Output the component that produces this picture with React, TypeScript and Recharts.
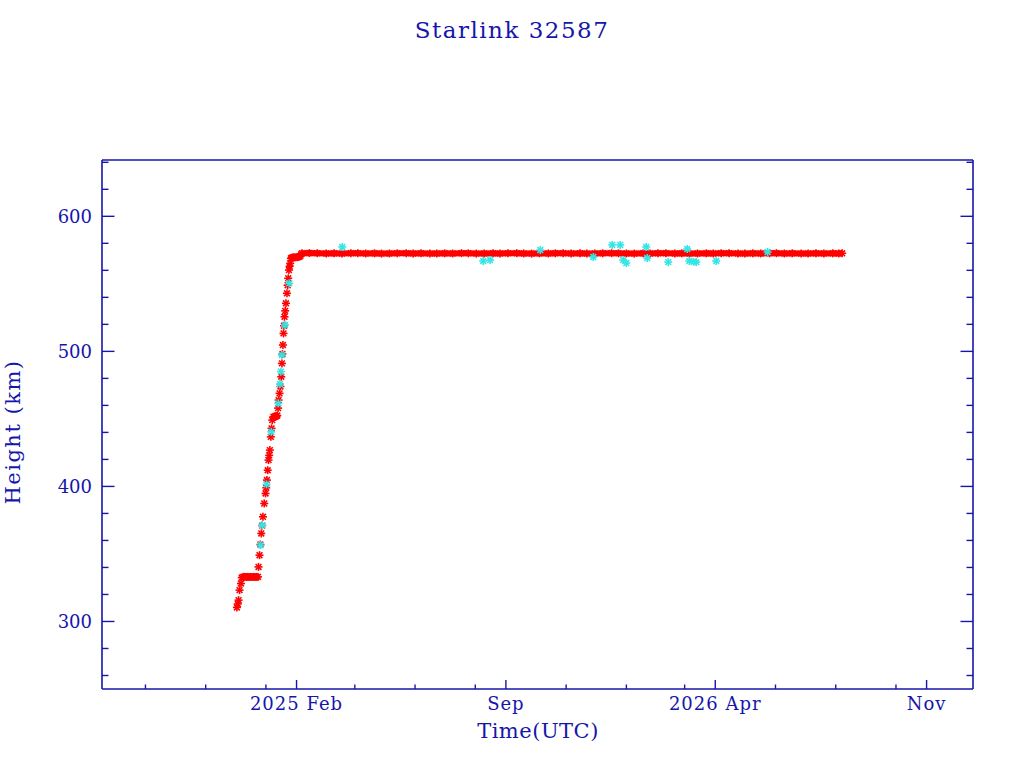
import { Scatter, ScatterChart, XAxis, YAxis } from "recharts";

// x = days since 2025-01-01 (UTC), y = height in km
const ascentDays = [
  -29.4, -28.5, -27.7, -26.7, -25.3, -24.5, -23, -21.5, -20, -18.5, -17, -15.5, -14, -12.5, -11, -9.5, -8,
  -7.5, -6.5, -5.6, -4.7, -3.8, -3, -1.7, -0.4, 0.3, 1, 1.8, 2.6, 3.3, 4, 5, 5.7, 6.4, 7.5, 8.5, 9.5, 10.5,
  11.5, 12.3, 12.8, 13.8, 14.7, 15.5, 16.2, 16.7, 17.2, 17.8, 18.3, 18.8, 19.5, 20.3, 21.3, 22, 22.6, 23.3,
  24, 24.6, 25.3, 26.3, 27.5, 29, 30.5, 32, 33.5, 34.7, 35.6,
];
const ascentKm = [
  310.4, 313, 315.8, 323.2, 328.1, 332.5, 333, 333, 333, 333, 333, 333, 333, 333, 333, 333, 333,
  340.4, 349.1, 357, 365.2, 371, 377.5, 387.4, 394.8, 399, 404.7, 412, 419.5, 423, 426.9, 436.7, 443, 449.1,
  451.5, 451.6, 451.8, 452, 452.5, 458, 463.9, 468.9, 474, 481.2, 491.1, 498, 504.7, 513.3, 519, 525.6, 530,
  535.6, 543, 549, 554.1, 560.2, 563, 565.2, 568.9, 569.4, 569.6, 569.6, 569.7, 569.8, 570, 570.5, 571.8,
];

const stationDays = [
  36.5, 44, 52, 61, 69, 77, 86, 93, 101, 110, 117, 125, 133, 142, 149, 157, 166, 173, 181, 189, 198, 205,
  213, 221, 230, 237, 245, 254, 261, 269, 277, 286, 293, 301, 309, 318, 325, 333, 341, 350, 357, 365, 373,
  382, 389, 397, 405, 414, 421, 429, 437, 446, 453, 461, 469, 478, 485, 493, 501, 510, 517, 525, 533, 542,
  549, 557, 565, 574, 580, 583.5,
];
const stationKm = [
  572.6, 572.8, 572.7, 572.5, 572.6, 572.4, 572.6, 572.7, 572.5, 572.6, 572.4, 572.5, 572.6, 572.7, 572.5,
  572.6, 572.4, 572.5, 572.6, 572.5, 572.7, 572.6, 572.4, 572.5, 572.6, 572.5, 572.6, 572.7, 572.5, 572.4,
  572.6, 572.5, 572.6, 572.7, 572.5, 572.6, 572.4, 572.5, 572.6, 572.7, 572.6, 572.5, 572.4, 572.6, 572.5,
  572.6, 572.7, 572.5, 572.6, 572.4, 572.5, 572.6, 572.5, 572.7, 572.6, 572.5, 572.4, 572.6, 572.5, 572.6,
  572.7, 572.5, 572.6, 572.4, 572.5, 572.6, 572.5, 572.6, 572.5, 572.6,
];

const cyanDays = [
  -5.5, -3.7, 0.6, 5.4, 12.5, 14.2, 15.2, 16.2, 19.3, 23.6, 77.3, 220, 227, 277.8, 331.5, 350.7, 358.8,
  361.8, 364.9, 385.1, 386.1, 407.4, 426.6, 428.7, 433, 435.8, 456, 508,
];
const cyanKm = [
  356.5, 371.3, 401.5, 440.4, 461.5, 475.8, 485, 497.3, 519.5, 550.4, 577.3, 566.9, 567.6, 575, 569.9, 578.8,
  578.8, 567.6, 565.4, 577.3, 569.1, 566.1, 575.8, 566.9, 566.4, 566.1, 566.9, 573.6,
];

const xMajorTicks = [31, 243, 455, 669];
const xMajorLabels = ["2025 Feb", "Sep", "2026 Apr", "Nov"];
const xMinorTicks = [-122, -61, 0, 90, 151, 212, 304, 365, 424, 516, 577, 638];
const yMajorTicks = [300, 400, 500, 600];
const yMinorTicks = [260, 280, 320, 340, 360, 380, 420, 440, 460, 480, 520, 540, 560, 580, 620, 640];

const ascent = ascentDays.map((d, i) => ({ d, h: ascentKm[i] }));
const station = stationDays.map((d, i) => ({ d, h: stationKm[i] }));
const cyan = cyanDays.map((d, i) => ({ d, h: cyanKm[i] }));

const INK = "#1616aa";
const FONT = "'DejaVu Serif', serif";
const xTicks = [...xMinorTicks, ...xMajorTicks].sort((a, b) => a - b);
const yTicks = [...yMinorTicks, ...yMajorTicks].sort((a, b) => a - b);

function Star(props: any) {
  const { cx, cy, color } = props;
  if (cx == null || cy == null) return null;
  const r = 4;
  const q = 2.9;
  return (
    <g stroke={color} strokeWidth={1.6}>
      <line x1={cx - r} y1={cy} x2={cx + r} y2={cy} />
      <line x1={cx} y1={cy - r} x2={cx} y2={cy + r} />
      <line x1={cx - q} y1={cy - q} x2={cx + q} y2={cy + q} />
      <line x1={cx - q} y1={cy + q} x2={cx + q} y2={cy - q} />
    </g>
  );
}

function BottomTick(props: any) {
  const { x, y, payload } = props;
  const idx = xMajorTicks.indexOf(payload.value);
  const major = idx >= 0;
  return (
    <g>
      <line x1={x} y1={y} x2={x} y2={y - (major ? 9 : 4.5)} stroke={INK} strokeWidth={1.4} />
      {major && (
        <text x={x} y={y + 21} textAnchor="middle" fill={INK} fontSize={18} letterSpacing={1} fontFamily={FONT}>
          {xMajorLabels[idx]}
        </text>
      )}
    </g>
  );
}

function TopTick(props: any) {
  const { x, y, payload } = props;
  const major = xMajorTicks.includes(payload.value);
  return <line x1={x} y1={y} x2={x} y2={y + (major ? 9 : 4.5)} stroke={INK} strokeWidth={1.4} />;
}

function LeftTick(props: any) {
  const { x, y, payload } = props;
  const major = yMajorTicks.includes(payload.value);
  return (
    <g>
      <line x1={x} y1={y} x2={x + (major ? 12.5 : 6.5)} y2={y} stroke={INK} strokeWidth={1.4} />
      {major && (
        <text x={x - 10} y={y + 6.5} textAnchor="end" fill={INK} fontSize={18} fontFamily={FONT}>
          {payload.value}
        </text>
      )}
    </g>
  );
}

function RightTick(props: any) {
  const { x, y, payload } = props;
  const major = yMajorTicks.includes(payload.value);
  return <line x1={x} y1={y} x2={x - (major ? 12.5 : 6.5)} y2={y} stroke={INK} strokeWidth={1.4} />;
}

const axisCommon = {
  type: "number" as const,
  allowDataOverflow: true,
  interval: 0 as const,
  tickSize: 0,
  tickMargin: 0,
  tickLine: false,
  axisLine: { stroke: INK, strokeWidth: 1.6 },
};

export default function App() {
  return (
    <div style={{ position: "absolute", left: 0, top: 0, width: 1024, height: 768, background: "#fff" }}>
      <ScatterChart width={1024} height={768} margin={{ top: 130, right: 21, bottom: 49, left: 42 }}>
        <XAxis
          {...axisCommon}
          xAxisId="b"
          dataKey="d"
          domain={[-166, 716]}
          ticks={xTicks}
          height={30}
          tick={<BottomTick />}
        />
        <XAxis
          {...axisCommon}
          xAxisId="t"
          orientation="top"
          domain={[-166, 716]}
          ticks={xTicks}
          height={30}
          tick={<TopTick />}
        />
        <YAxis
          {...axisCommon}
          yAxisId="l"
          dataKey="h"
          domain={[250, 641.7]}
          ticks={yTicks}
          width={60}
          tick={<LeftTick />}
        />
        <YAxis
          {...axisCommon}
          yAxisId="r"
          orientation="right"
          domain={[250, 641.7]}
          ticks={yTicks}
          width={30}
          tick={<RightTick />}
        />
        <Scatter
          xAxisId="b"
          yAxisId="l"
          data={station}
          line={{ stroke: "#ff0000", strokeWidth: 6 }}
          shape={(p: any) => <Star {...p} color="#ff0000" />}
          isAnimationActive={false}
        />
        <Scatter
          xAxisId="b"
          yAxisId="l"
          data={ascent}
          shape={(p: any) => <Star {...p} color="#ff0000" />}
          isAnimationActive={false}
        />
        <Scatter
          xAxisId="b"
          yAxisId="l"
          data={cyan}
          shape={(p: any) => <Star {...p} color="#33e6e6" />}
          isAnimationActive={false}
        />
      </ScatterChart>
      <svg width={1024} height={768} style={{ position: "absolute", left: 0, top: 0, pointerEvents: "none" }}>
        <text x={512} y={38} textAnchor="middle" fill={INK} fontSize={23} letterSpacing={1.5} fontFamily={FONT}>
          Starlink 32587
        </text>
        <text x={538} y={738} textAnchor="middle" fill={INK} fontSize={21} letterSpacing={0.5} fontFamily={FONT}>
          Time(UTC)
        </text>
        <text
          x={20}
          y={432}
          textAnchor="middle"
          fill={INK}
          fontSize={21}
          letterSpacing={1.5}
          fontFamily={FONT}
          transform="rotate(-90 20 432)"
        >
          Height (km)
        </text>
      </svg>
    </div>
  );
}
